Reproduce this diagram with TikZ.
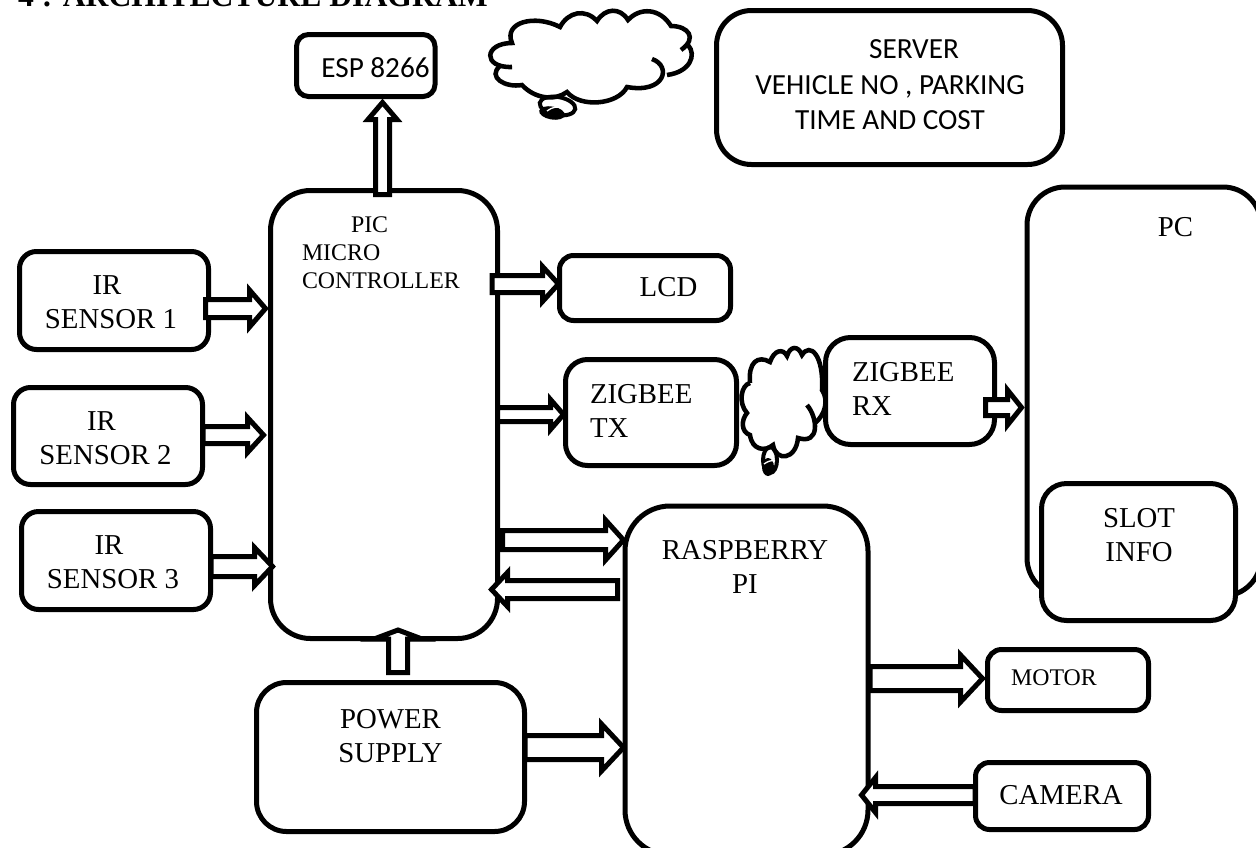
\documentclass[tikz,border=0pt]{standalone}
\usepackage{fontspec}
\usetikzlibrary{calc}
\setmainfont{Liberation Serif}
\newfontfamily\calfont{Carlito}
\newcommand\serfont{\fontsize{21.6pt}{25.5pt}\selectfont}
\newcommand\picfont{\fontsize{17.9pt}{21pt}\selectfont}
\newcommand\srvfont{\calfont\fontsize{21.9pt}{26.6pt}\selectfont}
\tikzset{
  x=0.75pt,y=-0.75pt,
  boxshape/.style={draw=black,fill=white,line width=3.75pt,rectangle,inner sep=0pt,outer sep=0pt},
  txt/.style={inner sep=0pt,outer sep=0pt,text=black,font=\serfont},
  lft/.style={txt,align=left,anchor=west},
  ctr/.style={txt,align=center,anchor=center},
  arrowline/.style={draw=black,fill=white,line width=3.75pt,miter limit=10,line join=miter},
  cloudarc/.style={draw=black,line width=3.4pt,line cap=butt,line join=miter}
}
% \boxnode{name}{x1}{y1}{x2}{y2}{radius}
\newcommand\boxnode[6]{%
  \pgfmathsetmacro\bw{(#4-#2)*0.75}%
  \pgfmathsetmacro\bh{(#5-#3)*0.75}%
  \pgfmathsetmacro\br{#6*0.75}%
  \node[boxshape,rounded corners=\br pt,minimum width=\bw pt,minimum height=\bh pt] (#1) at ({(#2+#4)/2},{(#3+#5)/2}) {};%
}
% \blockarrow{tail}{tip}{shaft half}{head half}{head length}
\newcommand\blockarrow[5]{%
  \coordinate (bA) at #1;
  \coordinate (bB) at #2;
  \coordinate (bH) at ($(bB)!#5*0.75pt!(bA)$);
  \draw[arrowline] ($(bA)!#3*0.75pt!90:(bB)$) -- ($(bH)!#3*0.75pt!90:(bB)$) -- ($(bH)!#4*0.75pt!90:(bB)$) -- (bB)
    -- ($(bH)!#4*0.75pt!-90:(bB)$) -- ($(bH)!#3*0.75pt!-90:(bB)$) -- ($(bA)!#3*0.75pt!-90:(bB)$) -- cycle;
}
\begin{document}
\begin{tikzpicture}
\clip (0,0) rectangle (1256,847);
\fill[white] (0,0) rectangle (1256,847);

% title
\node[txt,anchor=base west,font=\bfseries\fontsize{23.75pt}{26pt}\selectfont] (title) at (18,6) {4 : ARCHITECTURE DIAGRAM};

% cloud at the top
\draw[cloudarc] (512,67) .. controls (482,68) and (484,43) .. (512,43)
  .. controls (503,22) and (535,14) .. (560,27)
  .. controls (568,12) and (585,8) .. (597,21)
  .. controls (605,8) and (620,7) .. (628,20)
  .. controls (640,7) and (660,8) .. (671,26)
  .. controls (688,26) and (698,38) .. (681,50);
\draw[cloudarc] (688,45) .. controls (697,55) and (690,72) .. (667,75);
\draw[cloudarc] (652,59) .. controls (672,66) and (665,94) .. (627,87)
  .. controls (618,105) and (580,108) .. (567,92)
  .. controls (555,101) and (535,99) .. (522,85)
  .. controls (505,88) and (487,77) .. (500,66);
\draw[line width=3pt,rotate around={-10:(557.5,106)}] (557.5,106) ellipse[x radius=18,y radius=9];
\fill[black,rotate around={-10:(552,113)}] (552,113) ellipse[x radius=13,y radius=6.5];
\draw[white,line width=1pt] (547,111) .. controls (552,107) and (558,106) .. (562,108);

% cloud between the Zigbee boxes
\draw[cloudarc] (750,383) .. controls (748,362) and (758,355) .. (770,362)
  .. controls (774,350) and (783,348) .. (787,356)
  .. controls (790,346) and (798,345) .. (802,355)
  .. controls (810,342) and (824,355) .. (822,390)
  .. controls (829,400) and (825,415) .. (815,423);
\draw[cloudarc] (807,405) .. controls (818,418) and (820,445) .. (798,438)
  .. controls (796,460) and (776,462) .. (773,445)
  .. controls (765,452) and (752,450) .. (750,435)
  .. controls (741,432) and (741,420) .. (747,413)
  .. controls (738,403) and (741,385) .. (750,383);
\draw[line width=3pt] (770,460) ellipse[x radius=7,y radius=13];
\fill[black] (768,467) ellipse[x radius=6,y radius=9];
\draw[white,line width=1pt] (764,464) .. controls (768,461) and (772,460) .. (775,461);

% boxes
\boxnode{esp}{296.5}{34.5}{435}{96.5}{12}
\boxnode{server}{716.5}{10.5}{1062.5}{164.5}{35}
\boxnode{pic}{270.5}{190.5}{497.5}{638.5}{40}
\boxnode{lcd}{559.5}{255.5}{730.5}{320.5}{14}
\boxnode{ira}{19.5}{251.5}{208.5}{349.5}{17}
\boxnode{irb}{13.5}{387.5}{202.5}{484.5}{17}
\boxnode{irc}{21.5}{511.5}{210.5}{609.5}{17}
\boxnode{ztx}{565.5}{359.5}{736.5}{465.5}{22}
\boxnode{zrx}{825.5}{337.5}{994.5}{444.5}{25}
\boxnode{pc}{1027}{187}{1261}{596}{38}
\boxnode{slot}{1041.5}{483.5}{1235.5}{620.5}{25}
\boxnode{rpi}{625}{506}{868}{855}{45}
\boxnode{power}{256.5}{682.5}{524.5}{831.5}{30}
\boxnode{motor}{987.5}{649.5}{1148.5}{710.5}{14}
\boxnode{camera}{975.5}{762.5}{1148.5}{829.5}{14}

% arrows
\blockarrow{($(pic.north)+(-1.5,4)$)}{($(esp.south)+(16.75,6)$)}{7}{14.5}{17}
\blockarrow{($(ira.east |- 0,308.5)+(-3,0)$)}{($(pic.west |- 0,308.5)+(-5,0)$)}{9}{18.5}{16}
\blockarrow{($(irb.east |- 0,435)+(0.5,0)$)}{($(pic.west |- 0,435)+(-7,0)$)}{8.5}{17.5}{16}
\blockarrow{($(irc.east |- 0,566.5)+(0.5,0)$)}{($(pic.west |- 0,566.5)+(2,0)$)}{10}{19}{18}
\blockarrow{($(pic.east |- 0,284)+(-5.5,0)$)}{($(lcd.west |- 0,284)+(-1,0)$)}{8.5}{17.5}{16}
\blockarrow{($(pic.east |- 0,414.5)$)}{($(ztx.west |- 0,414.5)+(-2,0)$)}{7}{15}{13}
\blockarrow{($(zrx.east |- 0,407.5)+(-9,0)$)}{($(pc.west |- 0,407.5)+(-5.5,0)$)}{8}{17.5}{14}
\blockarrow{($(pic.east |- 0,540)+(5,0)$)}{($(rpi.west |- 0,540)+(-1.5,0)$)}{9.5}{20}{18}
\blockarrow{($(rpi.west |- 0,589.5)+(-7.5,0)$)}{($(pic.east |- 0,589.5)+(-6,0)$)}{9}{17}{16}
\blockarrow{($(power.north)+(7.5,-10)$)}{($(pic.south)+(14,-8.5)$)}{9.5}{24}{9}
\blockarrow{($(power.east |- 0,747.5)+(0.5,0)$)}{($(rpi.west |- 0,747.5)+(-1.5,0)$)}{12}{23.5}{22}
\blockarrow{($(rpi.east |- 0,678.5)+(2,0)$)}{($(motor.west |- 0,678.5)+(-5,0)$)}{12}{23.5}{22}
\blockarrow{($(camera.west |- 0,795)+(-0.5,0)$)}{($(rpi.east |- 0,795)+(-6.5,0)$)}{8.5}{17.5}{14}

% labels
\node[ctr,font=\srvfont] (tesp) at (375.5,67.5) {ESP 8266};
\node[ctr,font=\srvfont] (tsrv) at (890,85) {\hspace*{36pt}SERVER\\VEHICLE NO , PARKING\\TIME AND COST};
\node[lft,font=\picfont] (tpic) at (302,253) {\hspace*{36.75pt}PIC\\MICRO\\CONTROLLER};
\node[ctr] (tlcd) at (668.5,287) {LCD};
\node[ctr] (tira) at (111,302.5) {IR\hspace*{6pt}\\SENSOR 1};
\node[ctr] (tirb) at (105.5,438.5) {IR\hspace*{6pt}\\SENSOR 2};
\node[ctr] (tirc) at (113,562) {IR\hspace*{6pt}\\SENSOR 3};
\node[lft] (tztx) at (590,411) {ZIGBEE\\TX};
\node[lft] (tzrx) at (852,389) {ZIGBEE\\RX};
\node[ctr] (tpc) at (1175.5,227) {PC};
\node[ctr] (tslot) at (1139,535) {SLOT\\INFO};
\node[ctr] (trpi) at (745,567) {RASPBERRY\\PI};
\node[ctr] (tpow) at (390.5,736) {POWER\\SUPPLY};
\node[ctr,font=\picfont] (tmot) at (1054,678) {MOTOR};
\node[ctr] (tcam) at (1061,795) {CAMERA};
\end{tikzpicture}
\end{document}
